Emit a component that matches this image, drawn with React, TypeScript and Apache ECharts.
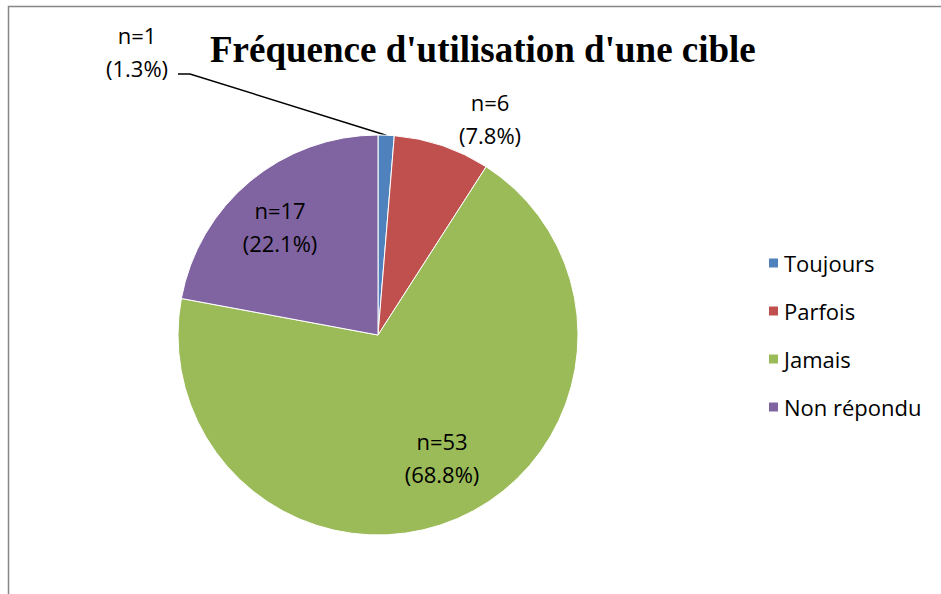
import React, { useEffect, useRef } from "react";
import * as echarts from "echarts";

const categories = ["Toujours", "Parfois", "Jamais", "Non répondu"];
const counts = [1, 6, 53, 17];
const colors = ["#4F81BD", "#C0504D", "#9BBB59", "#8064A2"];
const titleText = "Fréquence d'utilisation d'une cible";

// layout (not data)
const CX = 378;
const CY = 335;
const R = 200;
const labelCenters: [number, number][] = [
  [137, 51],
  [490, 118],
  [442, 457],
  [280, 226],
];

export default function App() {
  const ref = useRef<HTMLDivElement>(null);
  useEffect(() => {
    if (!ref.current) return;
    const chart = echarts.init(ref.current, undefined, { renderer: "svg" });
    const total = counts.reduce((a, b) => a + b, 0);
    const mid0 = ((counts[0] / total) * Math.PI * 2) / 2;
    const edge0: [number, number] = [CX + R * Math.sin(mid0), CY - R * Math.cos(mid0)];
    const data = categories.map((name, i) => ({
      name,
      value: counts[i],
      itemStyle: { color: colors[i] },
      label: { position: i < 2 ? "outside" : "inside" },
      labelLine: { show: i === 0, lineStyle: { color: "#000", width: 1.5 } },
    }));
    chart.setOption({
      animation: false,
      backgroundColor: "#fff",
      title: {
        text: titleText,
        left: 205,
        top: 26,
        textStyle: {
          fontFamily: "Liberation Serif",
          fontWeight: "bold",
          fontSize: 37,
          color: "#000",
        },
      },
      legend: {
        orient: "vertical",
        left: 762,
        top: 247,
        itemWidth: 11,
        itemHeight: 11,
        itemGap: 26,
        icon: "rect",
        data: categories,
        textStyle: {
          fontFamily: "Open Sans",
          fontSize: 22,
          lineHeight: 22,
          color: "#000",
        },
      },
      graphic: [
        {
          type: "rect",
          silent: true,
          shape: { x: 8.5, y: 6.5, width: 1200, height: 800 },
          style: { fill: "none", stroke: "#868686", lineWidth: 1.5 },
          z: 100,
        },
      ],
      series: [
        {
          type: "pie",
          center: [CX, CY],
          radius: [0, R],
          startAngle: 90,
          clockwise: true,
          avoidLabelOverlap: false,
          data,
          itemStyle: { borderColor: "#fff", borderWidth: 1 },
          label: {
            show: true,
            formatter: (p: any) =>
              `n=${p.value}\n(${((p.value / total) * 100).toFixed(1)}%)`,
            fontFamily: "Open Sans",
            fontSize: 22,
            lineHeight: 33,
            color: "#000",
            align: "center",
          },
          labelLayout: (p: any) => {
            const [x, y] = labelCenters[p.dataIndex];
            const out: any = { x, y, align: "center", verticalAlign: "middle" };
            if (p.dataIndex === 0) {
              out.labelLinePoints = [edge0, [190, 74], [178, 74]];
            }
            return out;
          },
        },
      ],
    });
    return () => chart.dispose();
  }, []);
  return (
    <div
      ref={ref}
      style={{ position: "fixed", left: 0, top: 0, width: 941, height: 594 }}
    />
  );
}
